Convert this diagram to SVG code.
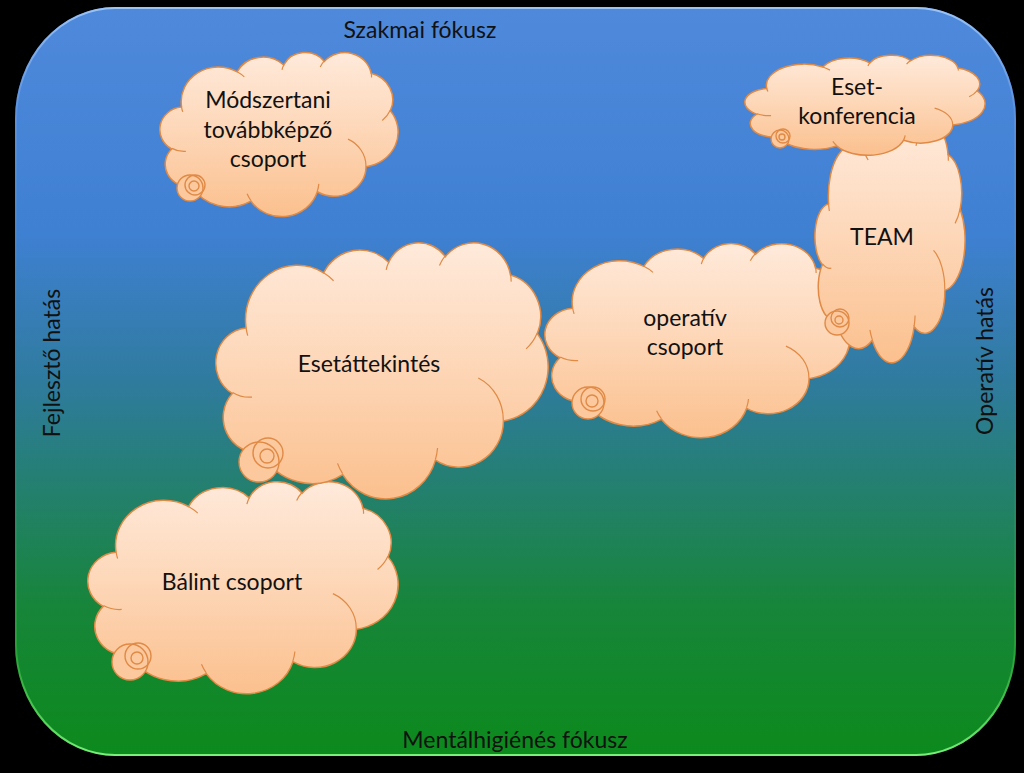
<svg xmlns="http://www.w3.org/2000/svg" xmlns:xlink="http://www.w3.org/1999/xlink" width="1024" height="773" viewBox="0 0 1024 773">
<style>
.cb { fill: url(#cloudFill); stroke: #e08a45; stroke-width: 1.5; vector-effect: non-scaling-stroke; }
.ci { fill: none; stroke: #e08a45; stroke-width: 1.2; vector-effect: non-scaling-stroke; }
.tail { fill: #fcc89e; stroke: #e08a45; stroke-width: 1.4; }
.spiral { fill: none; stroke: #e08a45; stroke-width: 1.4; }
.lbl { font-family: Lato, "Liberation Sans", sans-serif; font-size: 23px; fill: #111111; text-anchor: middle; }
</style>
<defs>
  <linearGradient id="bgGrad" x1="0" y1="7" x2="0" y2="756" gradientUnits="userSpaceOnUse">
    <stop offset="0" stop-color="#4f89db"/>
    <stop offset="0.3" stop-color="#3f80d3"/>
    <stop offset="0.5" stop-color="#2f7b9e"/>
    <stop offset="0.65" stop-color="#23806c"/>
    <stop offset="0.8" stop-color="#17853a"/>
    <stop offset="1" stop-color="#0c8a1c"/>
  </linearGradient>
  <linearGradient id="rimGrad" x1="0" y1="7" x2="0" y2="756" gradientUnits="userSpaceOnUse">
    <stop offset="0" stop-color="#9cc4f7"/>
    <stop offset="0.15" stop-color="#6fa0e8" stop-opacity="0.4"/>
    <stop offset="0.5" stop-color="#3f8aa0" stop-opacity="0"/>
    <stop offset="0.85" stop-color="#40c040" stop-opacity="0.4"/>
    <stop offset="1" stop-color="#7cf07c"/>
  </linearGradient>
  <linearGradient id="cloudFill" x1="0" y1="0" x2="0" y2="100" gradientUnits="userSpaceOnUse">
    <stop offset="0" stop-color="#ffeadb"/>
    <stop offset="0.5" stop-color="#fdd6b6"/>
    <stop offset="1" stop-color="#fbc08e"/>
  </linearGradient>
  <path id="cloudBody" class="cb" d="M9.03,33.26 A15.63,21.27 0 0 1 32.42,12.04 A12.34,16.82 0 0 1 51.98,7.94 A10.10,13.76 0 0 1 69.06,5.74 A11.24,15.27 0 0 1 88.70,12.91 A12.34,16.84 0 0 1 96.80,35.78 A15.68,21.34 0 0 1 86.58,69.91 A13.39,18.21 0 0 1 66.10,85.21 A15.63,21.33 0 0 1 38.15,90.89 A17.87,24.41 0 0 1 13.44,82.10 A10.09,13.70 0 0 1 4.89,59.14 A10.06,13.76 0 0 1 8.94,33.58 Z"/>
  <path id="cloudInner" class="ci" d="M10.86,60.59 A10.06,13.76 0 0 1 5.00,58.75 M16.04,80.78 A10.09,13.70 0 0 1 13.47,81.67 M38.14,90.49 A15.63,21.33 0 0 1 36.60,86.46 M66.73,80.44 A15.63,21.33 0 0 1 66.11,84.86 M79.00,53.13 A13.39,18.21 0 0 1 86.53,69.65 M96.75,35.54 A12.34,16.84 0 0 1 93.40,41.74 M88.71,12.56 A11.24,15.27 0 0 1 88.89,15.48 M67.31,9.15 A11.24,15.27 0 0 1 69.03,5.42 M51.25,10.93 A10.10,13.76 0 0 1 52.08,7.71 M32.41,12.02 A15.63,21.27 0 0 1 35.42,15.14 M9.55,36.55 A15.63,21.27 0 0 1 9.03,33.26"/>
</defs>

<rect x="0" y="0" width="1024" height="773" fill="#000000"/>
<g id="frame">
  <rect x="15" y="7" width="1001" height="749" rx="100" ry="112" fill="url(#bgGrad)"/>
  <rect x="16" y="8" width="999" height="747" rx="99" ry="111" fill="none" stroke="url(#rimGrad)" stroke-width="2"/>
</g>

<g id="connectors"></g>

<g id="node-modszertani">
  <g transform="translate(160,52) scale(2.38,1.64)">
    <use href="#cloudBody"/>
    <use href="#cloudInner"/>
  </g>
  <circle class="tail" cx="190" cy="188" r="13"/>
  <circle class="spiral" cx="195" cy="185" r="10"/>
  <circle class="spiral" cx="194" cy="186" r="5"/>
  <text class="lbl" x="268" y="108">Módszertani</text>
  <text class="lbl" x="268" y="138">továbbképző</text>
  <text class="lbl" x="268" y="167">csoport</text>
</g>

<g id="node-balint">
  <g transform="translate(88,481) scale(3.10,2.12)">
    <use href="#cloudBody"/>
    <use href="#cloudInner"/>
  </g>
  <circle class="tail" cx="130" cy="662" r="18"/>
  <circle class="spiral" cx="138" cy="656" r="13"/>
  <circle class="spiral" cx="137" cy="658" r="6"/>
  <text class="lbl" x="232" y="590">Bálint csoport</text>
</g>

<g id="node-esetattekintes">
  <g transform="translate(216,242) scale(3.32,2.56)">
    <use href="#cloudBody"/>
    <use href="#cloudInner"/>
  </g>
  <circle class="tail" cx="259" cy="462" r="20"/>
  <circle class="spiral" cx="268" cy="453" r="15"/>
  <circle class="spiral" cx="267" cy="456" r="7"/>
  <text class="lbl" x="369" y="372">Esetáttekintés</text>
</g>

<g id="node-operativ">
  <g transform="translate(545,243) scale(3.05,1.94)">
    <use href="#cloudBody"/>
    <use href="#cloudInner"/>
  </g>
  <circle class="tail" cx="588" cy="403" r="16"/>
  <circle class="spiral" cx="593" cy="399" r="12"/>
  <circle class="spiral" cx="592" cy="401" r="6"/>
  <text class="lbl" x="685" y="326">operatív</text>
  <text class="lbl" x="685" y="355">csoport</text>
</g>

<g id="node-team">
  <g transform="translate(815,124) scale(1.50,2.38)">
    <use href="#cloudBody"/>
    <use href="#cloudInner"/>
  </g>
  <circle class="tail" cx="837" cy="323" r="12"/>
  <circle class="spiral" cx="840" cy="318" r="9"/>
  <circle class="spiral" cx="839" cy="320" r="4"/>
  <text class="lbl" x="882" y="245">TEAM</text>
</g>

<g id="node-esetkonferencia">
  <g transform="translate(745,55) scale(2.40,1.00)">
    <use href="#cloudBody"/>
    <use href="#cloudInner"/>
  </g>
  <circle class="tail" cx="780" cy="139" r="9"/>
  <circle class="spiral" cx="783" cy="136" r="7"/>
  <circle class="spiral" cx="782" cy="137" r="3"/>
  <text class="lbl" x="857" y="95">Eset-</text>
  <text class="lbl" x="857" y="124">konferencia</text>
</g>

<g id="axis-labels">
  <text class="lbl" x="420" y="38">Szakmai fókusz</text>
  <text class="lbl" x="515" y="748">Mentálhigiénés fókusz</text>
  <text class="lbl" x="60" y="363" transform="rotate(-90 60 363)">Fejlesztő hatás</text>
  <text class="lbl" x="993" y="361" transform="rotate(-90 993 361)">Operatív hatás</text>
</g>
</svg>
